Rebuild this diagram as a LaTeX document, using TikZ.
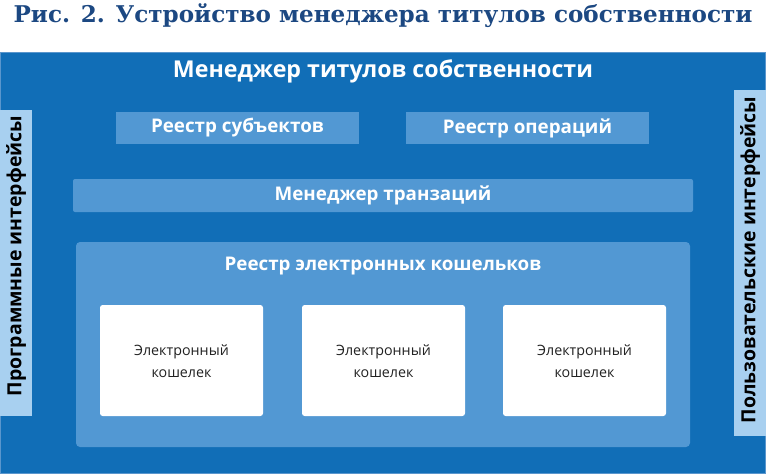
\documentclass[tikz,border=0pt]{standalone}
\usepackage{fontspec}
\setmainfont{Open Sans}
\newfontfamily\captionfont{DejaVu Serif}

\definecolor{outerBlue}{RGB}{17,110,183}
\definecolor{midBlue}{RGB}{82,152,211}
\definecolor{sideBlue}{RGB}{168,208,240}
\definecolor{captionBlue}{RGB}{28,72,130}
\definecolor{walletText}{RGB}{34,34,34}

\tikzset{every picture/.style={line width=0.75pt}}
\tikzset{
	bar box/.style={draw=none, fill=midBlue},
	wallet box/.style={draw=none, fill=white, rounded corners=2pt},
	head text/.style={text=white, font=\bfseries\fontsize{17.4}{20}\selectfont},
	bar text/.style={text=white, font=\bfseries\fontsize{14.1}{16}\selectfont},
	side text/.style={text=black, font=\bfseries\fontsize{14.6}{16}\selectfont, rotate=90},
	wallet text/.style={text=walletText, font=\fontsize{10.7}{16.5}\selectfont, align=center}}

\begin{document}
\begin{tikzpicture}[x=0.75pt,y=0.75pt,yscale=-1,xscale=1]
	\useasboundingbox (0,0) rectangle (766,474);

	%Shape: Rectangle [outer frame]
	\draw  [draw={rgb, 255:red, 90; green, 150; blue, 205 }, line width=0.5pt, fill=outerBlue] (0.5,52) -- (765,52) -- (765,473) -- (0.5,473) -- cycle ;
	%Shape: Rectangle [left side bar]
	\draw  [draw=none, fill=sideBlue] (0,110) -- (32,110) -- (32,416) -- (0,416) -- cycle ;
	%Shape: Rectangle [right side bar]
	\draw  [draw=none, fill=sideBlue] (734,90) -- (766,90) -- (766,436) -- (734,436) -- cycle ;
	%Shape: Rectangle [subjects]
	\draw  [bar box] (116,112) -- (359,112) -- (359,144) -- (116,144) -- cycle ;
	%Shape: Rectangle [operations]
	\draw  [bar box] (406,112) -- (649,112) -- (649,144) -- (406,144) -- cycle ;
	%Shape: Rectangle [transactions]
	\draw  [bar box, rounded corners=1.5pt] (73,179) -- (693,179) -- (693,212) -- (73,212) -- cycle ;
	%Shape: Rectangle [wallet registry]
	\draw  [bar box, rounded corners=3pt] (76,242) -- (690,242) -- (690,447) -- (76,447) -- cycle ;
	%Shape: Rectangle [wallets]
	\foreach \wx in {100,302,503}{
		\draw  [wallet box] (\wx,305) -- (\wx+163,305) -- (\wx+163,416) -- (\wx,416) -- cycle ;
	}

	% Text Node
	\draw (383,16) node (caption) [text=captionBlue, font=\captionfont\bfseries\fontsize{17.3}{20}\selectfont]  {Рис. 2. Устройство менеджера титулов собственности};
	% Text Node
	\draw (383,71) node (manager)  [head text]  {Менеджер титулов собственности};
	% Text Node
	\draw (237.5,128) node (subjects)  [bar text]  {Реестр субъектов};
	% Text Node
	\draw (527.5,128) node (operations)  [bar text]  {Реестр операций};
	% Text Node
	\draw (383,195.5) node (transactions)  [bar text]  {Менеджер транзаций};
	% Text Node
	\draw (383,266) node (registry)  [bar text]  {Реестр электронных кошельков};
	% Text Node
	\draw (181.5,361) node (walletA)  [wallet text]  {Электронный\\кошелек};
	% Text Node
	\draw (383.5,361) node (walletB)  [wallet text]  {Электронный\\кошелек};
	% Text Node
	\draw (584.5,361) node (walletC)  [wallet text]  {Электронный\\кошелек};
	% Text Node
	\draw (16,256) node (apiSide)  [side text]  {Программные интерфейсы};
	% Text Node
	\draw (750,260) node (uiSide)  [side text]  {Пользовательские интерфейсы};

\end{tikzpicture}
\end{document}
